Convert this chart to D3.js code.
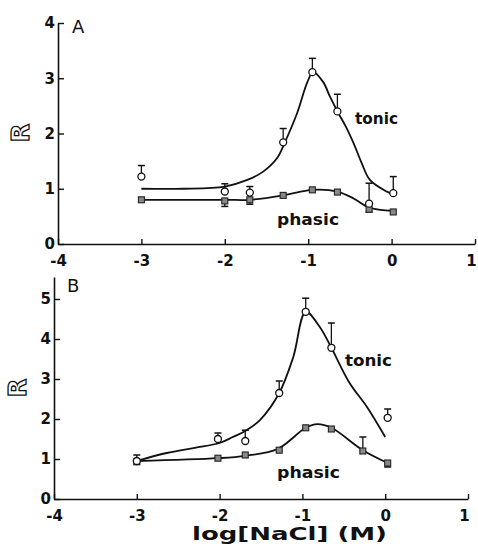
<!DOCTYPE html>
<html>
<head>
<meta charset="utf-8">
<script src="https://cdn.jsdelivr.net/npm/d3@7"></script>
<style>
body { margin: 0; background: #fff; }
text { font-family: "DejaVu Sans", sans-serif; fill: #111; }
</style>
</head>
<body>
<div id="chart"></div>
<script>
// log[NaCl] tick labels, shared by both panels
var xTicks = [-4, -3, -2, -1, 0, 1];

// Panel A - measured points
var a_x = [-3, -2, -1.7, -1.3, -0.95, -0.65, -0.27, 0.02];
var a_tonic = [1.22, 0.95, 0.93, 1.84, 3.11, 2.4, 0.73, 0.92];
var a_tonicErr = [0.2, 0.14, 0.11, 0.25, 0.25, 0.31, 0.37, 0.3];
var a_phasic = [0.8, 0.78, 0.8, 0.88, 0.98, 0.94, 0.63, 0.58];
var a_phasicErr = [0, -0.1, -0.08, 0, 0, 0, -0.05, 0];
// Panel A - fitted curves
var a_tonicFitX = [-3, -2.5, -2, -1.73, -1.54, -1.37, -1.28, -1.13, -1.01, -0.94, -0.82, -0.74, -0.65, -0.55, -0.46, -0.36, -0.26, -0.06, 0.02];
var a_tonicFitY = [1.0, 1.0, 1.04, 1.16, 1.31, 1.56, 1.84, 2.38, 2.93, 3.11, 2.93, 2.67, 2.4, 2.13, 1.84, 1.47, 1.16, 0.95, 0.9];
var a_phasicFitX = [-3, -2, -1.7, -1.3, -0.95, -0.65, -0.45, -0.27, 0.02];
var a_phasicFitY = [0.8, 0.8, 0.8, 0.88, 0.98, 0.95, 0.82, 0.66, 0.6];

// Panel B - measured points
var b_x = [-3, -2.02, -1.69, -1.28, -0.96, -0.65, -0.27, 0.03];
var b_tonicX = [-3, -2.02, -1.69, -1.28, -0.96, -0.65, 0.03];
var b_tonic = [0.95, 1.5, 1.45, 2.65, 4.68, 3.78, 2.03];
var b_tonicErr = [0.15, 0.15, 0.27, 0.3, 0.34, 0.62, 0.22];
var b_phasic = [0.93, 1.02, 1.1, 1.22, 1.78, 1.75, 1.2, 0.9];
var b_phasicErr = [0, 0, 0, 0, 0, 0, 0.35, -0.1];
// Panel B - fitted curves
var b_tonicFitX = [-3, -2.64, -2.3, -2, -1.84, -1.69, -1.51, -1.28, -1.11, -0.96, -0.79, -0.65, -0.43, -0.22, 0.0];
var b_tonicFitY = [0.95, 1.15, 1.28, 1.4, 1.55, 1.7, 1.98, 2.65, 3.55, 4.68, 4.3, 3.78, 2.9, 2.3, 1.55];
var b_phasicFitX = [-3, -2.02, -1.69, -1.3, -0.96, -0.82, -0.65, -0.27, 0.03];
var b_phasicFitY = [0.95, 1.02, 1.08, 1.25, 1.78, 1.87, 1.78, 1.22, 0.9];

const svg = d3.select("#chart").append("svg")
    .attr("width", 478)
    .attr("height", 554);

function drawPanel(p) {
    var x = d3.scaleLinear().domain([-4, 1]).range(p.xRange);
    var y = d3.scaleLinear().domain([0, p.yMax]).range(p.yRange);
    var g = svg.append("g");

    // x axis, ticks pointing up
    var xAxis = g.append("g")
        .attr("transform", `translate(0,${p.yRange[0]})`)
        .call(d3.axisBottom(x).tickValues(xTicks).tickSizeInner(-5).tickSizeOuter(0).tickPadding(11).tickFormat(d3.format("d")));

    // y axis, ticks pointing right
    var yAxis = g.append("g")
        .attr("transform", `translate(${p.xRange[0]},0)`)
        .call(d3.axisLeft(y).tickValues(p.yTicks).tickSizeInner(-6).tickSizeOuter(0).tickPadding(3).tickFormat(d3.format("d")));

    [xAxis, yAxis].forEach(ax => {
        ax.select(".domain").attr("stroke", "#111").attr("stroke-width", 1.6);
        ax.selectAll(".tick line").attr("stroke", "#111").attr("stroke-width", 1.4);
        ax.selectAll(".tick text")
            .style("font-family", "DejaVu Sans")
            .style("font-size", "15px")
            .style("font-weight", "bold")
            .attr("fill", "#111")
            .text(d => d < 0 ? "-" + Math.abs(d) : d);
    });
    // keep the last x label inside the page
    xAxis.selectAll(".tick text").filter(d => d === 1).attr("dx", -4);

    // fitted curves
    var line = d3.line()
        .x(d => x(d[0]))
        .y(d => y(d[1]))
        .curve(d3.curveCatmullRom.alpha(0.5));

    p.fits.forEach(f => {
        g.append("path")
            .datum(d3.zip(f[0], f[1]))
            .attr("d", line)
            .attr("fill", "none")
            .attr("stroke", "#111")
            .attr("stroke-width", 1.8);
    });

    // error bars
    p.series.forEach(s => {
        var pts = s.x.map((xv, i) => ({ x: xv, y: s.y[i], e: s.err[i] }))
            .filter(d => d.e !== 0);
        g.append("g").selectAll("line.bar")
            .data(pts)
            .enter().append("line")
            .attr("x1", d => x(d.x))
            .attr("x2", d => x(d.x))
            .attr("y1", d => y(d.y))
            .attr("y2", d => y(d.y + d.e))
            .attr("stroke", "#111")
            .attr("stroke-width", 1.3);
        g.append("g").selectAll("line.cap")
            .data(pts)
            .enter().append("line")
            .attr("x1", d => x(d.x) - 3.5)
            .attr("x2", d => x(d.x) + 3.5)
            .attr("y1", d => y(d.y + d.e))
            .attr("y2", d => y(d.y + d.e))
            .attr("stroke", "#111")
            .attr("stroke-width", 1.5);
    });

    // markers
    p.series.forEach(s => {
        var pts = s.x.map((xv, i) => [xv, s.y[i]]);
        if (s.type === "circle") {
            g.append("g").selectAll("circle")
                .data(pts)
                .enter().append("circle")
                .attr("cx", d => x(d[0]))
                .attr("cy", d => y(d[1]))
                .attr("r", 3.5)
                .attr("fill", "#fff")
                .attr("stroke", "#111")
                .attr("stroke-width", 1.3);
        } else {
            g.append("g").selectAll("rect")
                .data(pts)
                .enter().append("rect")
                .attr("x", d => x(d[0]) - 3)
                .attr("y", d => y(d[1]) - 3)
                .attr("width", 6)
                .attr("height", 6)
                .attr("fill", "#888")
                .attr("stroke", "#222")
                .attr("stroke-width", 1.1);
        }
    });

    // panel letter
    g.append("text")
        .attr("x", p.letterPos[0])
        .attr("y", p.letterPos[1])
        .style("font-size", "18px")
        .text(p.letter);

    // series labels
    p.labels.forEach(l => {
        g.append("text")
            .attr("x", l.pos[0])
            .attr("y", l.pos[1])
            .attr("textLength", l.w)
            .attr("lengthAdjust", "spacingAndGlyphs")
            .style("font-size", "16px")
            .style("font-weight", "bold")
            .text(l.text);
    });

    // y title
    g.append("text")
        .attr("transform", `translate(${p.rPos[0]},${p.rPos[1]}) rotate(-90)`)
        .attr("text-anchor", "middle")
        .style("font-size", "24px")
        .style("font-weight", "bold")
        .style("fill", "#fff")
        .style("stroke", "#111")
        .style("stroke-width", 1.3)
        .text("R");
}

drawPanel({
    xRange: [58, 475], yRange: [244, 23], yMax: 4, yTicks: [0, 1, 2, 3, 4],
    fits: [[a_tonicFitX, a_tonicFitY], [a_phasicFitX, a_phasicFitY]],
    series: [
        { x: a_x, y: a_phasic, err: a_phasicErr, type: "square" },
        { x: a_x, y: a_tonic, err: a_tonicErr, type: "circle" }
    ],
    letter: "A", letterPos: [72, 33],
    labels: [{ text: "tonic", pos: [355, 124], w: 43 }, { text: "phasic", pos: [277, 225], w: 62 }],
    rPos: [29, 133]
});

drawPanel({
    xRange: [54, 468], yRange: [499, 277], yMax: 5.55, yTicks: [0, 1, 2, 3, 4, 5],
    fits: [[b_tonicFitX, b_tonicFitY], [b_phasicFitX, b_phasicFitY]],
    series: [
        { x: b_x, y: b_phasic, err: b_phasicErr, type: "square" },
        { x: b_tonicX, y: b_tonic, err: b_tonicErr, type: "circle" }
    ],
    letter: "B", letterPos: [67, 292],
    labels: [{ text: "tonic", pos: [345, 366], w: 47 }, { text: "phasic", pos: [277, 478], w: 63 }],
    rPos: [26, 388]
});

// x axis title
svg.append("text")
    .attr("x", 192)
    .attr("y", 540)
    .attr("textLength", 195)
    .attr("lengthAdjust", "spacingAndGlyphs")
    .style("font-size", "18px")
    .style("font-weight", "bold")
    .text("log[NaCl] (M)");
</script>
</body>
</html>
